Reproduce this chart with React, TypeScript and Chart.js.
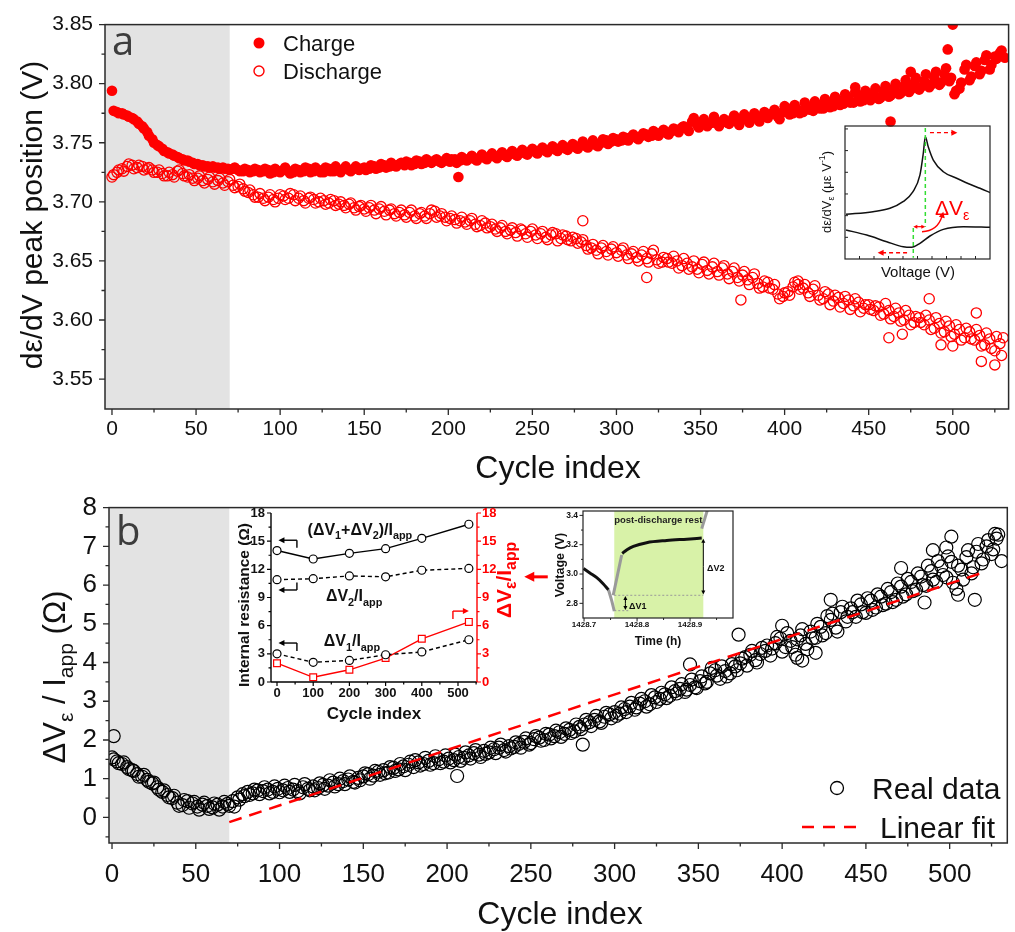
import React, { useEffect, useRef } from "react";
import { Chart, registerables } from "chart.js";
Chart.register(...registerables);

const SANS = "'Liberation Sans', Arial, Helvetica, sans-serif";
const LETTER = "'Open Sans', 'Liberation Sans', sans-serif";
const RED = "#ff0000";
const AXIS = "#2a2a2a";
const TXT = "#111111";
const BAND = "#e3e3e3";
const GREEN_FILL = "#d8f2a8";
const GREEN_LINE = "#33dd33";

// ---------------- Panel a : dε/dV peak position ----------------
const cycles = [
  0, 3, 6, 9, 12, 15, 18, 21, 24, 27,
  30, 33, 36, 39, 42, 45, 48, 51, 54, 57,
  60, 63, 66, 69, 72, 75, 78, 81, 84, 87,
  90, 93, 96, 99, 102, 105, 108, 111, 114, 117,
  120, 123, 126, 129, 132, 135, 138, 141, 144, 147,
  150, 153, 156, 159, 162, 165, 168, 171, 174, 177,
  180, 183, 186, 189, 192, 195, 198, 201, 204, 207,
  210, 213, 216, 219, 222, 225, 228, 231, 234, 237,
  240, 243, 246, 249, 252, 255, 258, 261, 264, 267,
  270, 273, 276, 279, 282, 285, 288, 291, 294, 297,
  300, 303, 306, 309, 312, 315, 318, 321, 324, 327,
  330, 333, 336, 339, 342, 345, 348, 351, 354, 357,
  360, 363, 366, 369, 372, 375, 378, 381, 384, 387,
  390, 393, 396, 399, 402, 405, 408, 411, 414, 417,
  420, 423, 426, 429, 432, 435, 438, 441, 444, 447,
  450, 453, 456, 459, 462, 465, 468, 471, 474, 477,
  480, 483, 486, 489, 492, 495, 498, 501, 504, 507,
  510, 513, 516, 519, 522, 525, 528,
];
const cyclesAlt = [
  1, 4, 7, 10, 13, 16, 19, 22, 25, 28,
  31, 34, 37, 40, 43, 46, 49, 52, 55, 58,
  61, 64, 67, 70, 73, 76, 79, 82, 85, 88,
  91, 94, 97, 100, 103, 106, 109, 112, 115, 118,
  121, 124, 127, 130, 133, 136, 139, 142, 145, 148,
  151, 154, 157, 160, 163, 166, 169, 172, 175, 178,
  181, 184, 187, 190, 193, 196, 199, 202, 205, 208,
  211, 214, 217, 220, 223, 226, 229, 232, 235, 238,
  241, 244, 247, 250, 253, 256, 259, 262, 265, 268,
  271, 274, 277, 280, 283, 286, 289, 292, 295, 298,
  301, 304, 307, 310, 313, 316, 319, 322, 325, 328,
  331, 334, 337, 340, 343, 346, 349, 352, 355, 358,
  361, 364, 367, 370, 373, 376, 379, 382, 385, 388,
  391, 394, 397, 400, 403, 406, 409, 412, 415, 418,
  421, 424, 427, 430, 433, 436, 439, 442, 445, 448,
  451, 454, 457, 460, 463, 466, 469, 472, 475, 478,
  481, 484, 487, 490, 493, 496, 499, 502, 505, 508,
  511, 514, 517, 520, 523, 526, 529,
];

const chargePeak = [
  3.794, 3.776, 3.775, 3.773, 3.771, 3.768, 3.764, 3.759, 3.753, 3.748,
  3.745, 3.742, 3.740, 3.738, 3.736, 3.735, 3.733, 3.732, 3.731, 3.730,
  3.730, 3.729, 3.729, 3.728, 3.728, 3.727, 3.726, 3.727, 3.726, 3.727,
  3.726, 3.727, 3.725, 3.726, 3.727, 3.726, 3.725, 3.727, 3.726, 3.728,
  3.726, 3.727, 3.725, 3.728, 3.726, 3.727, 3.728, 3.727, 3.728, 3.727,
  3.729, 3.728, 3.730, 3.729, 3.731, 3.730, 3.731, 3.732, 3.731, 3.733,
  3.732, 3.734, 3.733, 3.734, 3.735, 3.734, 3.735, 3.734, 3.736, 3.735,
  3.736, 3.737, 3.736, 3.738, 3.737, 3.739, 3.738, 3.740, 3.739, 3.741,
  3.740, 3.742, 3.741, 3.743, 3.742, 3.744, 3.743, 3.745, 3.744, 3.746,
  3.745, 3.747, 3.746, 3.748, 3.747, 3.749, 3.748, 3.750, 3.752, 3.751,
  3.753, 3.752, 3.754, 3.755, 3.754, 3.756, 3.757, 3.756, 3.758, 3.759,
  3.758, 3.760, 3.761, 3.763, 3.762, 3.768, 3.765, 3.767, 3.764, 3.767,
  3.766, 3.768, 3.767, 3.770, 3.768, 3.771, 3.769, 3.772, 3.770, 3.773,
  3.771, 3.775, 3.772, 3.776, 3.779, 3.775, 3.778, 3.776, 3.780, 3.777,
  3.782, 3.779, 3.784, 3.781, 3.786, 3.783, 3.788, 3.784, 3.790, 3.786,
  3.789, 3.792, 3.787, 3.794, 3.789, 3.796, 3.791, 3.798, 3.793, 3.800,
  3.795, 3.802, 3.797, 3.805, 3.799, 3.808, 3.802, 3.791, 3.796, 3.812,
  3.803, 3.815, 3.808, 3.820, 3.812, 3.823, 3.826,
];
const chargePeakAlt = [
  3.777, 3.775, 3.774, 3.772, 3.770, 3.766, 3.762, 3.756, 3.750, 3.747,
  3.743, 3.741, 3.739, 3.737, 3.735, 3.734, 3.732, 3.731, 3.730, 3.729,
  3.729, 3.728, 3.728, 3.727, 3.729, 3.726, 3.728, 3.725, 3.728, 3.725,
  3.728, 3.724, 3.728, 3.725, 3.729, 3.724, 3.728, 3.725, 3.729, 3.725,
  3.729, 3.725, 3.729, 3.726, 3.730, 3.725, 3.730, 3.726, 3.730, 3.728,
  3.727, 3.731, 3.728, 3.732, 3.729, 3.733, 3.730, 3.733, 3.734, 3.731,
  3.735, 3.732, 3.736, 3.733, 3.736, 3.733, 3.737, 3.736, 3.733, 3.738,
  3.735, 3.739, 3.735, 3.740, 3.736, 3.741, 3.737, 3.742, 3.738, 3.743,
  3.739, 3.744, 3.740, 3.745, 3.741, 3.746, 3.742, 3.747, 3.743, 3.748,
  3.744, 3.749, 3.745, 3.751, 3.746, 3.752, 3.747, 3.753, 3.749, 3.754,
  3.751, 3.755, 3.752, 3.757, 3.753, 3.758, 3.755, 3.760, 3.756, 3.761,
  3.757, 3.762, 3.759, 3.764, 3.760, 3.771, 3.763, 3.770, 3.766, 3.772,
  3.764, 3.770, 3.766, 3.773, 3.765, 3.774, 3.767, 3.775, 3.768, 3.776,
  3.774, 3.778, 3.770, 3.781, 3.774, 3.782, 3.775, 3.784, 3.778, 3.785,
  3.779, 3.787, 3.780, 3.789, 3.782, 3.791, 3.784, 3.793, 3.785, 3.794,
  3.786, 3.796, 3.788, 3.798, 3.790, 3.800, 3.792, 3.803, 3.795, 3.805,
  3.797, 3.808, 3.799, 3.810, 3.801, 3.813, 3.805, 3.794, 3.801, 3.816,
  3.806, 3.818, 3.811, 3.824, 3.816, 3.821, 3.828,
];

const dischargePeak = [
  3.721, 3.725, 3.728, 3.730, 3.731, 3.729, 3.730, 3.728, 3.727, 3.725,
  3.724, 3.722, 3.723, 3.726, 3.724, 3.721, 3.720, 3.720, 3.718, 3.719,
  3.717, 3.718, 3.716, 3.717, 3.714, 3.713, 3.711, 3.708, 3.706, 3.704,
  3.703, 3.704, 3.702, 3.703, 3.705, 3.703, 3.706, 3.703, 3.701, 3.703,
  3.702, 3.700, 3.701, 3.699, 3.701, 3.698, 3.697, 3.698, 3.695, 3.696,
  3.694, 3.695, 3.693, 3.694, 3.692, 3.693, 3.690, 3.691, 3.689, 3.691,
  3.688, 3.690, 3.688, 3.690, 3.692, 3.688, 3.687, 3.686, 3.685, 3.684,
  3.683, 3.684, 3.681, 3.680, 3.682, 3.679, 3.677, 3.678, 3.675, 3.676,
  3.674, 3.677, 3.673, 3.675, 3.672, 3.673, 3.670, 3.672, 3.673, 3.669,
  3.671, 3.667, 3.669, 3.666, 3.663, 3.661, 3.659, 3.661, 3.658, 3.660,
  3.657, 3.659, 3.655, 3.656, 3.653, 3.655, 3.652, 3.656, 3.651, 3.649,
  3.652, 3.648, 3.650, 3.646, 3.648, 3.645, 3.643, 3.647, 3.642, 3.645,
  3.641, 3.644, 3.639, 3.641, 3.636, 3.638, 3.634, 3.636, 3.631, 3.628,
  3.632, 3.626, 3.622, 3.620, 3.624, 3.628, 3.630, 3.627, 3.623, 3.626,
  3.621, 3.618, 3.622, 3.616, 3.619, 3.614, 3.617, 3.612, 3.615, 3.610,
  3.613, 3.608, 3.611, 3.605, 3.608, 3.603, 3.606, 3.600, 3.604, 3.598,
  3.602, 3.596, 3.600, 3.593, 3.597, 3.590, 3.595, 3.588, 3.592, 3.585,
  3.590, 3.583, 3.587, 3.579, 3.584, 3.574, 3.580,
];
const dischargePeakAlt = [
  3.723, 3.727, 3.726, 3.732, 3.728, 3.731, 3.727, 3.729, 3.725, 3.727,
  3.722, 3.725, 3.721, 3.727, 3.722, 3.723, 3.718, 3.722, 3.716, 3.721,
  3.715, 3.720, 3.714, 3.719, 3.712, 3.715, 3.709, 3.710, 3.704, 3.707,
  3.701, 3.706, 3.700, 3.706, 3.702, 3.707, 3.701, 3.705, 3.699, 3.704,
  3.699, 3.703, 3.698, 3.702, 3.697, 3.700, 3.695, 3.699, 3.693, 3.697,
  3.692, 3.697, 3.690, 3.696, 3.689, 3.694, 3.688, 3.693, 3.687, 3.693,
  3.686, 3.691, 3.686, 3.693, 3.687, 3.690, 3.684, 3.688, 3.682, 3.687,
  3.681, 3.686, 3.679, 3.684, 3.678, 3.681, 3.675, 3.680, 3.673, 3.678,
  3.671, 3.676, 3.670, 3.677, 3.669, 3.675, 3.668, 3.674, 3.667, 3.672,
  3.668, 3.670, 3.665, 3.668, 3.660, 3.664, 3.656, 3.663, 3.655, 3.662,
  3.654, 3.661, 3.652, 3.658, 3.650, 3.658, 3.649, 3.659, 3.648, 3.653,
  3.649, 3.654, 3.644, 3.652, 3.643, 3.650, 3.640, 3.649, 3.639, 3.648,
  3.638, 3.646, 3.635, 3.644, 3.633, 3.641, 3.630, 3.639, 3.627, 3.633,
  3.627, 3.630, 3.618, 3.623, 3.621, 3.632, 3.626, 3.630, 3.620, 3.629,
  3.617, 3.624, 3.613, 3.621, 3.611, 3.620, 3.609, 3.618, 3.607, 3.613,
  3.609, 3.612, 3.604, 3.614, 3.601, 3.610, 3.599, 3.608, 3.596, 3.603,
  3.598, 3.604, 3.592, 3.602, 3.589, 3.599, 3.586, 3.596, 3.583, 3.593,
  3.584, 3.592, 3.578, 3.589, 3.576, 3.586, 3.570,
];

const chargeOutlierX = [206, 442, 463, 475, 497, 500, 531];
const chargeOutlierY = [3.721, 3.797, 3.768, 3.810, 3.829, 3.850, 3.822];
const dischargeOutlierX = [280, 318, 374, 408, 462, 470, 486, 493, 500, 514, 517, 525, 530];
const dischargeOutlierY = [3.684, 3.636, 3.617, 3.633, 3.585, 3.588, 3.618, 3.579, 3.578, 3.606, 3.565, 3.562, 3.585];

// ---------------- Panel b : ΔVε / Iapp ----------------
const strainResistance = [
  1.55, 1.45, 1.38, 1.30, 1.22, 1.12, 1.05, 0.97, 0.88, 0.78,
  0.66, 0.58, 0.50, 0.38, 0.32, 0.42, 0.36, 0.28, 0.33, 0.30,
  0.26, 0.33, 0.28, 0.35, 0.42, 0.52, 0.60, 0.66, 0.62, 0.70,
  0.68, 0.72, 0.66, 0.74, 0.70, 0.76, 0.72, 0.68, 0.78, 0.74,
  0.80, 0.76, 0.84, 0.82, 0.90, 0.86, 0.94, 0.98, 0.92, 1.02,
  1.06, 1.12, 1.08, 1.18, 1.22, 1.16, 1.28, 1.24, 1.32, 1.36,
  1.30, 1.42, 1.38, 1.46, 1.40, 1.50, 1.44, 1.52, 1.48, 1.56,
  1.54, 1.60, 1.66, 1.62, 1.72, 1.68, 1.76, 1.80, 1.74, 1.84,
  1.82, 1.90, 1.95, 1.88, 2.02, 2.06, 2.00, 2.14, 2.10, 2.20,
  2.16, 2.26, 2.22, 2.34, 2.40, 2.46, 2.52, 2.48, 2.60, 2.66,
  2.72, 2.68, 2.80, 2.86, 2.78, 2.94, 3.00, 2.92, 3.10, 3.06,
  3.18, 3.14, 3.26, 3.32, 3.24, 3.42, 3.36, 3.52, 3.46, 3.72,
  3.80, 3.58, 3.78, 3.72, 3.90, 3.98, 4.14, 4.20, 4.06, 4.22,
  4.30, 4.18, 4.50, 4.62, 4.40, 4.56, 4.20, 4.70, 4.48, 4.80,
  4.64, 4.92, 4.76, 5.10, 4.90, 5.30, 5.06, 5.40, 5.18, 5.50,
  5.28, 5.60, 5.42, 5.70, 5.52, 5.82, 5.62, 5.96, 5.76, 6.08,
  5.88, 6.22, 5.98, 6.36, 6.08, 6.48, 6.20, 6.60, 5.90, 6.40,
  6.72, 6.30, 6.86, 6.56, 7.00, 6.80, 7.20,
];
const strainResistanceAlt = [
  1.50, 1.40, 1.42, 1.25, 1.20, 1.05, 1.10, 0.92, 0.90, 0.72,
  0.70, 0.52, 0.56, 0.30, 0.45, 0.25, 0.40, 0.20, 0.38, 0.22,
  0.36, 0.20, 0.40, 0.30, 0.28, 0.46, 0.55, 0.58, 0.72, 0.60,
  0.78, 0.62, 0.80, 0.65, 0.82, 0.66, 0.84, 0.62, 0.86, 0.70,
  0.70, 0.88, 0.74, 0.96, 0.80, 1.00, 0.86, 1.06, 0.90, 0.96,
  1.14, 1.00, 1.20, 1.10, 1.14, 1.30, 1.20, 1.38, 1.22, 1.44,
  1.48, 1.34, 1.54, 1.36, 1.58, 1.40, 1.60, 1.42, 1.62, 1.46,
  1.68, 1.52, 1.74, 1.56, 1.64, 1.80, 1.66, 1.88, 1.70, 1.78,
  1.94, 1.80, 2.04, 1.92, 2.10, 1.98, 2.16, 2.04, 2.24, 2.08,
  2.30, 2.18, 2.40, 2.28, 2.52, 2.36, 2.62, 2.44, 2.70, 2.56,
  2.62, 2.84, 2.72, 2.96, 2.84, 3.06, 2.86, 3.16, 2.98, 3.22,
  3.08, 3.36, 3.20, 3.44, 3.30, 3.56, 3.34, 3.64, 3.50, 3.86,
  3.66, 3.90, 3.64, 3.96, 3.80, 4.10, 3.92, 4.30, 4.00, 4.38,
  4.44, 4.36, 4.66, 4.28, 4.76, 4.40, 4.60, 4.86, 4.34, 4.62,
  5.00, 4.70, 5.20, 5.26, 4.80, 5.44, 5.18, 5.30, 5.60, 5.30,
  5.66, 5.36, 5.76, 5.48, 5.90, 5.56, 6.04, 5.70, 6.16, 5.84,
  6.30, 6.00, 6.50, 6.14, 6.62, 6.26, 6.74, 6.06, 6.50, 6.14,
  6.90, 6.46, 7.06, 6.66, 7.16, 6.92, 7.30,
];
const strainOutlierX = [1, 206, 281, 345, 374, 400, 409, 412, 420, 429, 471, 485, 490, 498, 501, 505, 515, 527, 531];
const strainOutlierY = [2.10, 1.07, 1.88, 3.95, 4.72, 4.95, 4.12, 4.05, 4.25, 5.62, 6.44, 5.55, 6.90, 6.97, 7.25, 5.75, 5.62, 7.32, 6.62];

const fitX = [70, 521];
const fitY = [-0.12, 6.34];
const bandEndCycle = 70;

// axis ticks
const xTicksMain = [0, 50, 100, 150, 200, 250, 300, 350, 400, 450, 500];
const xMinorMain = [25, 75, 125, 175, 225, 275, 325, 375, 425, 475, 525];
const yTicksA = [3.55, 3.60, 3.65, 3.70, 3.75, 3.80, 3.85];
const yMinorA = [3.575, 3.625, 3.675, 3.725, 3.775, 3.825];
const yTicksB = [0, 1, 2, 3, 4, 5, 6, 7, 8];
const yMinorB = [-0.5, 0.5, 1.5, 2.5, 3.5, 4.5, 5.5, 6.5, 7.5];

// ---------------- Inset: internal resistance ----------------
const irCycles = [0, 100, 200, 300, 400, 530];
const irTotal = [14.0, 13.1, 13.7, 14.2, 15.3, 16.8];
const irDV2 = [10.9, 11.0, 11.3, 11.2, 11.9, 12.1];
const irDV1 = [3.0, 2.1, 2.3, 2.9, 3.2, 4.5];
const irStrain = [2.0, 0.5, 1.3, 2.55, 4.6, 6.4];
const irXTicks = [0, 100, 200, 300, 400, 500];
const irXMinor = [50, 150, 250, 350, 450, 550];
const irYTicks = [0, 3, 6, 9, 12, 15, 18];
const irYMinor = [1.5, 4.5, 7.5, 10.5, 13.5, 16.5];

// ---------------- Inset: voltage vs time ----------------
const dischTime = [1428.699, 1428.711, 1428.724, 1428.736, 1428.746];
const dischVolt = [3.037, 3.007, 2.975, 2.934, 2.893];
const dischTailTime = [1428.746, 1428.752, 1428.757];
const dischTailVolt = [2.893, 2.82, 2.747];
const riseTime = [1428.755, 1428.771];
const riseVolt = [2.855, 3.13];
const restTime = [1428.772, 1428.781, 1428.793, 1428.818, 1428.856, 1428.894, 1428.922];
const restVolt = [3.14, 3.166, 3.189, 3.214, 3.229, 3.238, 3.245];
const chargeStartTime = [1428.922, 1428.933];
const chargeStartVolt = [3.31, 3.44];
const restStart = 1428.757;
const restEnd = 1428.925;
const vTimeTicks = [1428.7, 1428.8, 1428.9];
const vTimeMinor = [1428.75, 1428.85, 1428.95];
const vVoltTicks = [2.8, 3.0, 3.2, 3.4];
const vVoltMinor = [2.9, 3.1, 3.3];

// ---------------- Inset: dε/dV schematic ----------------
const upperV = [0.07, 1.93, 3.10, 4.0, 4.69, 5.17, 5.4, 5.54, 5.74, 6.09, 6.78, 7.7, 8.74, 9.31, 10];
const upperD = [3.36, 3.56, 3.81, 4.31, 5.06, 6.32, 7.95, 9.2, 8.44, 7.44, 6.56, 6.07, 5.56, 5.32, 4.99];
const lowerV = [0.07, 1.5, 2.88, 4.02, 4.6, 5.17, 5.86, 6.78, 8.16, 10];
const lowerD = [2.18, 1.8, 1.3, 0.92, 0.88, 1.18, 1.73, 2.23, 2.43, 2.38];
const schemXTicks = [1, 2, 3, 4, 5, 6, 7, 8, 9];
const schemYTicks = [1.63, 3.26, 4.89, 6.52, 8.15, 9.78];

// ---------------- helpers ----------------
type Seg = { t: string; sub?: boolean; sup?: boolean };

function drawRich(ctx: any, segs: Seg[], x: number, y: number, o: any) {
  const weight = o.weight || "normal";
  const fam = o.family || SANS;
  const small = o.size * (o.subScale || 0.68);
  ctx.save();
  ctx.translate(x, y);
  if (o.rotate) ctx.rotate(o.rotate);
  ctx.fillStyle = o.color || TXT;
  ctx.textBaseline = "alphabetic";
  ctx.textAlign = "left";
  const widths = segs.map((s) => {
    ctx.font = `${weight} ${s.sub || s.sup ? small : o.size}px ${fam}`;
    return ctx.measureText(s.t).width;
  });
  const total = widths.reduce((a, b) => a + b, 0);
  let cx = o.align === "left" ? 0 : o.align === "right" ? -total : -total / 2;
  const base = o.size * 0.36;
  segs.forEach((s, i) => {
    ctx.font = `${weight} ${s.sub || s.sup ? small : o.size}px ${fam}`;
    const dy = s.sub ? o.size * 0.26 : s.sup ? -o.size * 0.42 : 0;
    ctx.fillText(s.t, cx, base + dy);
    cx += widths[i];
  });
  ctx.restore();
}

function line(ctx: any, x1: number, y1: number, x2: number, y2: number, color: string, w: number, dash?: number[]) {
  ctx.save();
  ctx.strokeStyle = color;
  ctx.lineWidth = w;
  if (dash) ctx.setLineDash(dash);
  ctx.beginPath();
  ctx.moveTo(x1, y1);
  ctx.lineTo(x2, y2);
  ctx.stroke();
  ctx.restore();
}

function head(ctx: any, x: number, y: number, ang: number, size: number, color: string) {
  const h2 = size * 0.5;
  const bx = x - size * Math.cos(ang);
  const by = y - size * Math.sin(ang);
  ctx.save();
  ctx.fillStyle = color;
  ctx.beginPath();
  ctx.moveTo(x, y);
  ctx.lineTo(bx + h2 * Math.sin(ang), by - h2 * Math.cos(ang));
  ctx.lineTo(bx - h2 * Math.sin(ang), by + h2 * Math.cos(ang));
  ctx.closePath();
  ctx.fill();
  ctx.restore();
}

function arrow(ctx: any, x1: number, y1: number, x2: number, y2: number, color: string, w: number, size: number, dash?: number[]) {
  const ang = Math.atan2(y2 - y1, x2 - x1);
  line(ctx, x1, y1, x2 - size * 0.8 * Math.cos(ang), y2 - size * 0.8 * Math.sin(ang), color, w, dash);
  head(ctx, x2, y2, ang, size, color);
}

function tickMarks(ctx: any, scale: any, vals: number[], axis: string, at: number, len: number, color = AXIS, w = 1.3) {
  ctx.save();
  ctx.strokeStyle = color;
  ctx.lineWidth = w;
  ctx.beginPath();
  vals.forEach((v) => {
    const p = scale.getPixelForValue(v);
    if (axis === "x") {
      ctx.moveTo(p, at);
      ctx.lineTo(p, at + len);
    } else {
      ctx.moveTo(at, p);
      ctx.lineTo(at + len, p);
    }
  });
  ctx.stroke();
  ctx.restore();
}

function frame(ctx: any, ca: any, color = AXIS, w = 1.5) {
  ctx.save();
  ctx.strokeStyle = color;
  ctx.lineWidth = w;
  ctx.strokeRect(ca.left, ca.top, ca.right - ca.left, ca.bottom - ca.top);
  ctx.restore();
}

function linAxis(o: any) {
  return {
    type: "linear",
    position: o.position,
    min: o.min,
    max: o.max,
    grid: { display: false, drawTicks: false },
    border: { display: false },
    afterBuildTicks: (s: any) => {
      s.ticks = o.ticks.map((v: number) => ({ value: v }));
    },
    afterFit: (s: any) => {
      if (o.height !== undefined) s.height = o.height;
      if (o.width !== undefined) s.width = o.width;
    },
    ticks: {
      display: o.showLabels !== false,
      autoSkip: false,
      maxRotation: 0,
      minRotation: 0,
      padding: o.pad,
      color: o.color || TXT,
      font: { family: SANS, size: o.size, weight: o.weight || "normal" },
      callback: (v: number) => (o.dec !== undefined ? Number(v).toFixed(o.dec) : String(v)),
    },
  };
}

function pts(xs: number[], ys: number[]) {
  return xs.map((x, i) => ({ x, y: ys[i] }));
}

const baseOpts = {
  responsive: false,
  animation: false,
  events: [],
  plugins: { legend: { display: false }, tooltip: { enabled: false }, title: { display: false } },
};

// ---------------- chart configs ----------------
const TOP_B = 480;

function configA(): any {
  const plugin = {
    id: "decorA",
    beforeDatasetsDraw(chart: any) {
      const { ctx, chartArea: ca, scales } = chart;
      const xe = scales.x.getPixelForValue(bandEndCycle);
      ctx.save();
      ctx.fillStyle = BAND;
      ctx.fillRect(ca.left, ca.top, xe - ca.left, ca.bottom - ca.top);
      ctx.restore();
    },
    afterDraw(chart: any) {
      const { ctx, chartArea: ca, scales } = chart;
      frame(ctx, ca);
      tickMarks(ctx, scales.x, xTicksMain, "x", ca.bottom, 6);
      tickMarks(ctx, scales.x, xMinorMain, "x", ca.bottom, 3.5);
      tickMarks(ctx, scales.y, yTicksA, "y", ca.left, -6);
      tickMarks(ctx, scales.y, yMinorA, "y", ca.left, -3.5);
      drawRich(ctx, [{ t: "dε/dV peak position (V)" }], 31, 215, { size: 30, rotate: -Math.PI / 2 });
      drawRich(ctx, [{ t: "Cycle index" }], 558, 466, { size: 32 });
      // legend
      ctx.save();
      ctx.fillStyle = RED;
      ctx.beginPath();
      ctx.arc(259, 43, 5.5, 0, Math.PI * 2);
      ctx.fill();
      ctx.strokeStyle = RED;
      ctx.lineWidth = 1.4;
      ctx.beginPath();
      ctx.arc(259, 71, 5, 0, Math.PI * 2);
      ctx.stroke();
      ctx.restore();
      drawRich(ctx, [{ t: "Charge" }], 283, 43, { size: 22, align: "left" });
      drawRich(ctx, [{ t: "Discharge" }], 283, 71, { size: 22, align: "left" });
      // panel letter
      ctx.save();
      ctx.fillStyle = "#3c3c3c";
      ctx.font = `40px ${LETTER}`;
      ctx.textBaseline = "alphabetic";
      ctx.fillText("a", 112, 55);
      ctx.restore();
    },
  };
  return {
    type: "scatter",
    data: {
      datasets: [
        {
          label: "Charge",
          data: pts(cycles, chargePeak).concat(pts(cyclesAlt, chargePeakAlt), pts(chargeOutlierX, chargeOutlierY)),
          pointRadius: 5.3,
          pointBackgroundColor: RED,
          pointBorderColor: RED,
          pointBorderWidth: 0,
          showLine: false,
        },
        {
          label: "Discharge",
          data: pts(cycles, dischargePeak).concat(pts(cyclesAlt, dischargePeakAlt), pts(dischargeOutlierX, dischargeOutlierY)),
          pointRadius: 5.1,
          pointBackgroundColor: "rgba(255,255,255,0)",
          pointBorderColor: RED,
          pointBorderWidth: 1.3,
          showLine: false,
        },
      ],
    },
    options: {
      ...baseOpts,
      layout: { padding: { left: 0, top: 23, right: 4, bottom: 0 } },
      scales: {
        x: linAxis({ position: "bottom", min: -4.15, max: 533.2, ticks: xTicksMain, size: 21, pad: 8, height: 495 - 409 }),
        y: linAxis({ position: "left", min: 3.5247, max: 3.85, ticks: yTicksA, size: 21, pad: 12, width: 105, dec: 2 }),
      },
    },
    plugins: [plugin],
  };
}

function configB(): any {
  const o = TOP_B;
  const plugin = {
    id: "decorB",
    beforeDatasetsDraw(chart: any) {
      const { ctx, chartArea: ca, scales } = chart;
      const xe = scales.x.getPixelForValue(bandEndCycle);
      ctx.save();
      ctx.fillStyle = BAND;
      ctx.fillRect(ca.left, ca.top, xe - ca.left, ca.bottom - ca.top);
      ctx.restore();
    },
    afterDraw(chart: any) {
      const { ctx, chartArea: ca, scales } = chart;
      frame(ctx, ca);
      tickMarks(ctx, scales.x, xTicksMain, "x", ca.bottom, 6);
      tickMarks(ctx, scales.x, xMinorMain, "x", ca.bottom, 3.5);
      tickMarks(ctx, scales.y, yTicksB, "y", ca.left, -6);
      tickMarks(ctx, scales.y, yMinorB, "y", ca.left, -3.5);
      drawRich(
        ctx,
        [{ t: "ΔV" }, { t: "ε", sub: true }, { t: " / I" }, { t: "app", sub: true }, { t: " (Ω)" }],
        54,
        677 - o,
        { size: 31, rotate: -Math.PI / 2 }
      );
      drawRich(ctx, [{ t: "Cycle index" }], 560, 912 - o, { size: 32 });
      // legend
      ctx.save();
      ctx.strokeStyle = "#000";
      ctx.lineWidth = 1.3;
      ctx.beginPath();
      ctx.arc(837, 788 - o, 6.5, 0, Math.PI * 2);
      ctx.stroke();
      ctx.restore();
      line(ctx, 802, 827 - o, 860, 827 - o, RED, 2.5, [12, 9]);
      drawRich(ctx, [{ t: "Real data" }], 872, 788 - o, { size: 30, align: "left" });
      drawRich(ctx, [{ t: "Linear fit" }], 880, 827 - o, { size: 30, align: "left" });
      ctx.save();
      ctx.fillStyle = "#3c3c3c";
      ctx.font = `40px ${LETTER}`;
      ctx.textBaseline = "alphabetic";
      ctx.fillText("b", 116, 545 - o);
      ctx.restore();
    },
  };
  return {
    type: "scatter",
    data: {
      datasets: [
        {
          label: "Linear fit",
          data: pts(fitX, fitY),
          showLine: true,
          borderColor: RED,
          borderWidth: 2.5,
          borderDash: [13, 8],
          pointRadius: 0,
          fill: false,
        },
        {
          label: "Real data",
          data: pts(cycles, strainResistance).concat(pts(cyclesAlt, strainResistanceAlt), pts(strainOutlierX, strainOutlierY)),
          pointRadius: 6.5,
          pointBackgroundColor: "rgba(255,255,255,0)",
          pointBorderColor: "#000",
          pointBorderWidth: 1.2,
          showLine: false,
        },
      ],
    },
    options: {
      ...baseOpts,
      layout: { padding: { left: 0, top: 502 - o, right: 2, bottom: 0 } },
      scales: {
        x: linAxis({ position: "bottom", min: -1.8, max: 534.4, ticks: xTicksMain, size: 26, pad: 16, height: 932 - o - (843 - o) }),
        y: linAxis({ position: "left", min: -0.66, max: 8, ticks: yTicksB, size: 26, pad: 12, width: 109 }),
      },
    },
    plugins: [plugin],
  };
}

// inset in panel b : internal resistance  (canvas at left 220, top 490)
const IR_L = 220;
const IR_T = 490;
function configIR(): any {
  const plugin = {
    id: "decorIR",
    afterDraw(chart: any) {
      const { ctx, chartArea: ca, scales } = chart;
      const X = (v: number) => scales.x.getPixelForValue(v);
      const Y = (v: number) => scales.y.getPixelForValue(v);
      line(ctx, ca.left, ca.top, ca.left, ca.bottom, "#000", 1.4);
      line(ctx, ca.left, ca.bottom, ca.right, ca.bottom, "#000", 1.4);
      line(ctx, ca.right, ca.top, ca.right, ca.bottom, RED, 1.4);
      tickMarks(ctx, scales.x, irXTicks, "x", ca.bottom, 4, "#000", 1.2);
      tickMarks(ctx, scales.x, irXMinor, "x", ca.bottom, 2.5, "#000", 1.2);
      tickMarks(ctx, scales.y, irYTicks, "y", ca.left, -4, "#000", 1.2);
      tickMarks(ctx, scales.y, irYMinor, "y", ca.left, -2.5, "#000", 1.2);
      tickMarks(ctx, scales.y2, irYTicks, "y", ca.right, 4, RED, 1.2);
      tickMarks(ctx, scales.y2, irYMinor, "y", ca.right, 2.5, RED, 1.2);
      drawRich(ctx, [{ t: "Internal resistance (Ω)" }], 243 - IR_L, 605 - IR_T, { size: 15.5, weight: "bold", rotate: -Math.PI / 2 });
      drawRich(ctx, [{ t: "Cycle index" }], 374 - IR_L, 713 - IR_T, { size: 17, weight: "bold" });
      drawRich(ctx, [{ t: "ΔV" }, { t: "ε", sub: true }, { t: "/I" }, { t: "app", sub: true }], 503 - IR_L, 580 - IR_T, {
        size: 21,
        weight: "bold",
        color: RED,
        rotate: -Math.PI / 2,
        subScale: 0.75,
      });
      // series labels
      drawRich(ctx, [{ t: "(ΔV" }, { t: "1", sub: true }, { t: "+ΔV" }, { t: "2", sub: true }, { t: ")/I" }, { t: "app", sub: true }], X(229), Y(16.3), {
        size: 16,
        weight: "bold",
      });
      drawRich(ctx, [{ t: "ΔV" }, { t: "2", sub: true }, { t: "/I" }, { t: "app", sub: true }], X(213), Y(9.2), { size: 16, weight: "bold" });
      drawRich(ctx, [{ t: "ΔV" }, { t: "1", sub: true }, { t: "/I" }, { t: "app", sub: true }], X(207), Y(4.4), { size: 16, weight: "bold" });
      // bracket arrows pointing to the axes
      line(ctx, X(55), Y(14.3), X(55), Y(15.1), "#000", 1.4);
      arrow(ctx, X(55), Y(15.1), X(4), Y(15.1), "#000", 1.4, 6);
      line(ctx, X(55), Y(10.6), X(55), Y(9.8), "#000", 1.4);
      arrow(ctx, X(55), Y(9.8), X(4), Y(9.8), "#000", 1.4, 6);
      line(ctx, X(55), Y(3.3), X(55), Y(4.15), "#000", 1.4);
      arrow(ctx, X(55), Y(4.15), X(4), Y(4.15), "#000", 1.4, 6);
      line(ctx, X(486), Y(6.7), X(486), Y(7.55), RED, 1.4);
      arrow(ctx, X(486), Y(7.55), X(530), Y(7.55), RED, 1.4, 6);
      arrow(ctx, X(748), Y(11.2), X(683), Y(11.2), RED, 3, 10);
    },
  };
  const circ = { pointRadius: 4, pointBackgroundColor: "#fff", pointBorderColor: "#000", pointBorderWidth: 1.2, borderColor: "#000", borderWidth: 1.4 };
  return {
    type: "scatter",
    data: {
      datasets: [
        { label: "(ΔV1+ΔV2)/Iapp", data: pts(irCycles, irTotal), showLine: true, ...circ },
        { label: "ΔV2/Iapp", data: pts(irCycles, irDV2), showLine: true, borderDash: [4, 3], ...circ },
        { label: "ΔV1/Iapp", data: pts(irCycles, irDV1), showLine: true, borderDash: [4, 3], ...circ },
        {
          label: "ΔVε/Iapp",
          data: pts(irCycles, irStrain),
          yAxisID: "y2",
          showLine: true,
          pointStyle: "rect",
          pointRadius: 4.8,
          pointBackgroundColor: "#fff",
          pointBorderColor: RED,
          pointBorderWidth: 1.2,
          borderColor: RED,
          borderWidth: 1.4,
        },
      ],
    },
    options: {
      ...baseOpts,
      layout: { padding: { left: 0, top: 513 - IR_T, right: 35, bottom: 0 } },
      scales: {
        x: linAxis({ position: "bottom", min: -16.6, max: 552.5, ticks: irXTicks, size: 13, weight: "bold", pad: 4, height: IR_T + 240 - 682 }),
        y: linAxis({ position: "left", min: 0, max: 18, ticks: irYTicks, size: 13, weight: "bold", pad: 6, width: 271 - IR_L }),
        y2: linAxis({ position: "right", min: 0, max: 18, ticks: irYTicks, size: 13, weight: "bold", pad: 5, width: 43, color: RED }),
      },
    },
    plugins: [plugin],
  };
}

// inset in panel b : voltage vs time (canvas at left 530, top 495)
const VT_L = 530;
const VT_T = 495;
function configVT(): any {
  const plugin = {
    id: "decorVT",
    beforeDatasetsDraw(chart: any) {
      const { ctx, chartArea: ca, scales } = chart;
      ctx.save();
      ctx.fillStyle = "#fff";
      ctx.fillRect(ca.left, ca.top, ca.right - ca.left, ca.bottom - ca.top);
      const x1 = scales.x.getPixelForValue(restStart);
      const x2 = scales.x.getPixelForValue(restEnd);
      ctx.fillStyle = GREEN_FILL;
      ctx.fillRect(x1, ca.top, x2 - x1, ca.bottom - ca.top);
      ctx.restore();
      const X = (v: number) => scales.x.getPixelForValue(v);
      const Y = (v: number) => scales.y.getPixelForValue(v);
      line(ctx, X(restStart), Y(2.75), X(1428.785), Y(2.75), "#999", 1, [2, 2]);
      line(ctx, X(restStart), Y(2.855), X(restEnd), Y(2.855), "#999", 1, [2, 2]);
    },
    afterDraw(chart: any) {
      const { ctx, chartArea: ca, scales } = chart;
      const X = (v: number) => scales.x.getPixelForValue(v);
      const Y = (v: number) => scales.y.getPixelForValue(v);
      frame(ctx, ca, "#222", 1.2);
      tickMarks(ctx, scales.x, vTimeTicks, "x", ca.bottom, 3.5, "#222", 1);
      tickMarks(ctx, scales.x, vTimeMinor, "x", ca.bottom, 2, "#222", 1);
      tickMarks(ctx, scales.y, vVoltTicks, "y", ca.left, -3.5, "#222", 1);
      tickMarks(ctx, scales.y, vVoltMinor, "y", ca.left, -2, "#222", 1);
      // ΔV1 arrow
      arrow(ctx, X(1428.778), Y(2.80), X(1428.778), Y(2.755), "#000", 1, 4);
      arrow(ctx, X(1428.778), Y(2.80), X(1428.778), Y(2.85), "#000", 1, 4);
      drawRich(ctx, [{ t: "ΔV1" }], X(1428.785), Y(2.786), { size: 9, weight: "bold", align: "left" });
      // ΔV2 arrow
      arrow(ctx, X(restEnd), Y(3.05), X(restEnd), Y(3.24), "#000", 1, 4);
      arrow(ctx, X(restEnd), Y(3.05), X(restEnd), Y(2.86), "#000", 1, 4);
      drawRich(ctx, [{ t: "ΔV2" }], X(1428.932), Y(3.045), { size: 9, weight: "bold", align: "left" });
      drawRich(ctx, [{ t: "post-discharge rest" }], X(1428.84), Y(3.373), { size: 9.5, weight: "bold", color: "#222" });
      drawRich(ctx, [{ t: "Voltage (V)" }], 559 - VT_L, 565 - VT_T, { size: 12.5, weight: "bold", rotate: -Math.PI / 2 });
      drawRich(ctx, [{ t: "Time (h)" }], 658 - VT_L, 641 - VT_T, { size: 12, weight: "bold" });
    },
  };
  const thick = { showLine: true, pointRadius: 0, borderWidth: 3, tension: 0.4, cubicInterpolationMode: "monotone" };
  return {
    type: "scatter",
    data: {
      datasets: [
        { label: "discharge", data: pts(dischTime, dischVolt), borderColor: "#111", ...thick },
        { label: "discharge end", data: pts(dischTailTime, dischTailVolt), borderColor: "#9a9a9a", ...thick },
        { label: "IR jump", data: pts(riseTime, riseVolt), borderColor: "#9a9a9a", ...thick },
        { label: "rest", data: pts(restTime, restVolt), borderColor: "#111", ...thick },
        { label: "charge", data: pts(chargeStartTime, chargeStartVolt), borderColor: "#9a9a9a", ...thick },
      ],
    },
    options: {
      ...baseOpts,
      layout: { padding: { left: 0, top: 511 - VT_T, right: VT_L + 230 - 733, bottom: 0 } },
      scales: {
        x: linAxis({ position: "bottom", min: 1428.698, max: 1428.981, ticks: vTimeTicks, size: 8, weight: "bold", pad: 2, height: VT_T + 165 - 618, dec: 1 }),
        y: linAxis({ position: "left", min: 2.7, max: 3.43, ticks: vVoltTicks, size: 8.5, weight: "bold", pad: 5, width: 583 - VT_L, dec: 1 }),
      },
    },
    plugins: [plugin],
  };
}

// inset in panel a : schematic dε/dV curves (canvas at left 800, top 115)
const SC_L = 800;
const SC_T = 115;
function configSchem(): any {
  const plugin = {
    id: "decorSchem",
    afterDraw(chart: any) {
      const { ctx, chartArea: ca, scales } = chart;
      const X = (v: number) => scales.x.getPixelForValue(v);
      const Y = (v: number) => scales.y.getPixelForValue(v);
      frame(ctx, ca, "#222", 1.2);
      tickMarks(ctx, scales.x, schemXTicks, "x", ca.bottom, -3, "#222", 1);
      tickMarks(ctx, scales.y, schemYTicks, "y", ca.left, 3, "#222", 1);
      line(ctx, X(5.54), Y(9.85), X(5.54), Y(2.43), GREEN_LINE, 1.5, [4, 3]);
      line(ctx, X(4.71), Y(2.33), X(4.71), Y(0.1), GREEN_LINE, 1.5, [4, 3]);
      arrow(ctx, X(5.86), Y(9.5), X(7.75), Y(9.5), RED, 1.4, 6, [4, 3]);
      arrow(ctx, X(4.28), Y(0.47), X(2.25), Y(0.47), RED, 1.4, 6, [4, 3]);
      // double arrow
      arrow(ctx, X(5.1), Y(2.43), X(4.71), Y(2.43), RED, 1.2, 4);
      arrow(ctx, X(5.1), Y(2.43), X(5.54), Y(2.43), RED, 1.2, 4);
      // curved arrow
      ctx.save();
      ctx.strokeStyle = RED;
      ctx.lineWidth = 1.3;
      ctx.beginPath();
      ctx.moveTo(X(5.31), Y(2.05));
      ctx.quadraticCurveTo(X(6.4), Y(2.1), X(6.7), Y(3.25));
      ctx.stroke();
      ctx.restore();
      head(ctx, X(6.78), Y(3.55), -Math.PI / 2 + 0.25, 6, RED);
      drawRich(ctx, [{ t: "ΔV" }, { t: "ε", sub: true }], X(6.2), Y(3.9), { size: 21, color: RED, align: "left" });
      drawRich(ctx, [{ t: "dε/dV" }, { t: "ε", sub: true }, { t: " (με V" }, { t: "-1", sup: true }, { t: ")" }], 826 - SC_L, 192 - SC_T, {
        size: 13,
        rotate: -Math.PI / 2,
      });
      drawRich(ctx, [{ t: "Voltage (V)" }], 918 - SC_L, 272 - SC_T, { size: 15 });
    },
  };
  const curve = { showLine: true, pointRadius: 0, borderColor: "#111", borderWidth: 1.5, cubicInterpolationMode: "monotone" };
  return {
    type: "scatter",
    data: {
      datasets: [
        { label: "charge", data: pts(upperV, upperD), ...curve },
        { label: "discharge", data: pts(lowerV, lowerD), ...curve },
      ],
    },
    options: {
      ...baseOpts,
      layout: { padding: { left: 0, top: 126 - SC_T, right: SC_L + 200 - 990, bottom: 0 } },
      scales: {
        x: linAxis({ position: "bottom", min: 0, max: 10, ticks: [], size: 10, pad: 0, height: SC_T + 170 - 259, showLabels: false }),
        y: linAxis({ position: "left", min: 0, max: 10, ticks: [], size: 10, pad: 0, width: 845 - SC_L, showLabels: false }),
      },
    },
    plugins: [plugin],
  };
}

export default function App() {
  const refA = useRef<HTMLCanvasElement>(null);
  const refB = useRef<HTMLCanvasElement>(null);
  const refIR = useRef<HTMLCanvasElement>(null);
  const refVT = useRef<HTMLCanvasElement>(null);
  const refSC = useRef<HTMLCanvasElement>(null);

  useEffect(() => {
    Chart.defaults.font.family = SANS;
    const charts: any[] = [];
    charts.push(new Chart(refA.current as any, configA()));
    charts.push(new Chart(refB.current as any, configB()));
    charts.push(new Chart(refIR.current as any, configIR()));
    charts.push(new Chart(refVT.current as any, configVT()));
    charts.push(new Chart(refSC.current as any, configSchem()));
    return () => charts.forEach((c) => c.destroy());
  }, []);

  const abs = (l: number, t: number, w: number, h: number): any => ({ position: "absolute", left: l, top: t, width: w, height: h });
  return (
    <div style={{ position: "absolute", left: 0, top: 0, width: 1015, height: 932, background: "#fff", overflow: "hidden" }}>
      <canvas ref={refA} width={1015} height={495} style={abs(0, 0, 1015, 495)} />
      <canvas ref={refB} width={1015} height={932 - TOP_B} style={abs(0, TOP_B, 1015, 932 - TOP_B)} />
      <canvas ref={refIR} width={335} height={240} style={abs(IR_L, IR_T, 335, 240)} />
      <canvas ref={refVT} width={230} height={165} style={abs(VT_L, VT_T, 230, 165)} />
      <canvas ref={refSC} width={200} height={170} style={abs(SC_L, SC_T, 200, 170)} />
    </div>
  );
}
